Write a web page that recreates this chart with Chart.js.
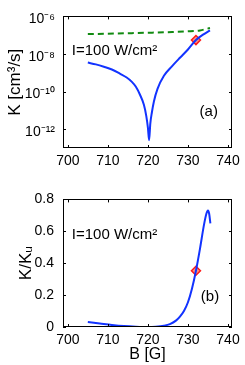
<!DOCTYPE html>
<html>
<head>
<meta charset="utf-8">
<script src="https://cdn.jsdelivr.net/npm/chart.js@4/dist/chart.umd.min.js"></script>
<style>
  html, body { margin:0; padding:0; background:#fff; }
  #wrap { position:relative; width:245px; height:365px; overflow:hidden; }
  canvas { position:absolute; left:0; }
</style>
</head>
<body>
<div id="wrap">
  <canvas id="top" width="245" height="182" style="top:0"></canvas>
  <canvas id="bot" width="245" height="183" style="top:182px"></canvas>
</div>
<script>
// ---- data ----
const xTicks = [700, 710, 720, 730, 740];
const kTicks = [1e-12, 1e-10, 1e-8, 1e-6];
const ratioTicks = [0, 0.2, 0.4, 0.6, 0.8];

const kB =   [705, 707, 709, 711, 713, 714.7, 716, 717, 718, 719, 719.6, 720, 720.3, 720.6, 721, 721.5, 722.4, 724, 726, 728, 730, 732, 734, 735.5];
const kVal = [3.5e-9, 2.8e-9, 2.1e-9, 1.5e-9, 9e-10, 5.6e-10, 3.3e-10, 1.8e-10, 7e-11, 2e-11, 5e-12, 1.2e-12, 2.6e-13, 2e-12, 8e-12, 3e-11, 1.4e-10, 6.9e-10, 2.2e-9, 6.3e-9, 1.74e-8, 5.5e-8, 1.15e-7, 1.8e-7];

const kuB =   [705, 710, 715, 720, 725, 730, 733, 735.5];
const kuVal = [1.15e-7, 1.2e-7, 1.27e-7, 1.35e-7, 1.45e-7, 1.6e-7, 1.8e-7, 2.4e-7];

const rB =   [705, 708, 711, 714, 717, 720, 722, 724, 725.5, 727, 728, 729, 730, 731, 732, 733, 734, 734.6, 735, 735.3, 735.6];
const rVal = [0.031, 0.022, 0.013, 0.006, 0.002, 0.0, 0.002, 0.008, 0.018, 0.04, 0.065, 0.1, 0.155, 0.24, 0.353, 0.49, 0.64, 0.71, 0.73, 0.71, 0.65];

const markB = [732];
const markK = [5.5e-8];
const markR = [0.353];

const noteText = 'I=100 W/cm²';
// ---------------------------------------

const FONT = '"Liberation Sans", Arial, Helvetica, sans-serif';
const BLUE = '#1233ff';
const GREEN = '#118a11';
const RED = '#ff1a1a';

const sup = {'-':'⁻','0':'⁰','1':'¹','2':'²','3':'³','4':'⁴','5':'⁵','6':'⁶','7':'⁷','8':'⁸','9':'⁹'};
function powLabel(v) {
  const e = Math.round(Math.log10(v));
  return '10' + String(e).split('').map(c => sup[c]).join('');
}
const pts = (xs, ys) => xs.map((x, i) => ({x, y: ys[i]}));

const boxPlugin = {
  id: 'box',
  afterDatasetsDraw(chart) {
    const {ctx, chartArea: a, scales: {x, y}} = chart;
    ctx.save();
    ctx.strokeStyle = '#000';
    ctx.lineWidth = 1;
    ctx.strokeRect(Math.round(a.left) + 0.5, Math.round(a.top) + 0.5,
                   Math.round(a.right - a.left) - 1, Math.round(a.bottom - a.top) - 1);
    const L = 3;
    ctx.beginPath();
    x.ticks.forEach(t => {
      const p = Math.round(x.getPixelForValue(t.value)) + 0.5;
      ctx.moveTo(p, a.bottom); ctx.lineTo(p, a.bottom - L);
      ctx.moveTo(p, a.top); ctx.lineTo(p, a.top + L);
    });
    y.ticks.forEach(t => {
      const p = Math.round(y.getPixelForValue(t.value)) + 0.5;
      ctx.moveTo(a.left, p); ctx.lineTo(a.left + L, p);
      ctx.moveTo(a.right, p); ctx.lineTo(a.right - L, p);
    });
    ctx.stroke();
    ctx.restore();
  },
  afterDraw(chart) {
    const notes = chart.options.plugins.box.notes || [];
    const {ctx, scales: {x, y}} = chart;
    ctx.save();
    ctx.fillStyle = '#000';
    ctx.textBaseline = 'middle';
    notes.forEach(n => {
      ctx.font = n.size + 'px ' + FONT;
      ctx.textAlign = n.align;
      ctx.fillText(n.text, x.getPixelForValue(n.x), y.getPixelForValue(n.y));
    });
    ctx.restore();
  }
};

function xScale(withTitle, height) {
  return {
    type: 'linear',
    min: 698.8, max: 741,
    grid: {display: false, drawTicks: false},
    border: {display: false},
    afterBuildTicks: s => { s.ticks = xTicks.map(v => ({value: v})); },
    afterFit: s => { s.height = height; },
    ticks: {color: '#000', font: {family: FONT, size: 14}, padding: 5, maxRotation: 0,
            callback: v => String(v)},
    title: withTitle ? {display: true, text: 'B [G]', color: '#000',
            font: {family: FONT, size: 16}, padding: {top: 0, bottom: 1}} : {display: false}
  };
}

new Chart(document.getElementById('top'), {
  type: 'line',
  data: {
    datasets: [
      {data: pts(kuB, kuVal), borderColor: GREEN, borderWidth: 2, borderDash: [6, 4],
       pointRadius: 0, cubicInterpolationMode: 'monotone', fill: false},
      {data: pts(kB, kVal), borderColor: BLUE, borderWidth: 2,
       pointRadius: 0, cubicInterpolationMode: 'monotone', fill: false},
      {data: pts(markB, markK), showLine: false, pointStyle: 'rectRot', pointRadius: 4.5,
       borderColor: RED, borderWidth: 1.5, backgroundColor: '#ff9080'}
    ]
  },
  options: {
    responsive: false, animation: false,
    layout: {padding: {left: 0, right: 13, top: 15, bottom: 0}},
    plugins: {legend: {display: false}, tooltip: {enabled: false},
      box: {notes: [
        {text: noteText, x: 701, y: 1.4e-8, size: 15, align: 'left'},
        {text: '(a)', x: 735.2, y: 8e-12, size: 15, align: 'center'}
      ]}},
    scales: {
      x: xScale(false, 182 - 148),
      y: {
        type: 'logarithmic', min: 1e-13, max: 1e-6,
        grid: {display: false, drawTicks: false}, border: {display: false},
        afterBuildTicks: s => { s.ticks = kTicks.map(v => ({value: v})); },
        afterFit: s => { s.width = 63; },
        ticks: {color: '#000', font: {family: FONT, size: 14}, padding: 8, labelOffset: 3,
                callback: v => powLabel(v)},
        title: {display: true, text: 'K [cm³/s]', color: '#000',
                font: {family: FONT, size: 17}, padding: {top: 5, bottom: 0}}
      }
    }
  },
  plugins: [boxPlugin]
});

new Chart(document.getElementById('bot'), {
  type: 'line',
  data: {
    datasets: [
      {data: pts(rB, rVal), borderColor: BLUE, borderWidth: 2,
       pointRadius: 0, cubicInterpolationMode: 'monotone', fill: false},
      {data: pts(markB, markR), showLine: false, pointStyle: 'rectRot', pointRadius: 4.5,
       borderColor: RED, borderWidth: 1.5, backgroundColor: '#ff9080'}
    ]
  },
  options: {
    responsive: false, animation: false,
    layout: {padding: {left: 0, right: 13, top: 15, bottom: 0}},
    plugins: {legend: {display: false}, tooltip: {enabled: false},
      box: {notes: [
        {text: noteText, x: 701, y: 0.58, size: 15, align: 'left'},
        {text: '(b)', x: 735.5, y: 0.186, size: 15, align: 'center'}
      ]}},
    scales: {
      x: xScale(true, 183 - 145),
      y: {
        type: 'linear', min: 0, max: 0.8,
        grid: {display: false, drawTicks: false}, border: {display: false},
        afterBuildTicks: s => { s.ticks = ratioTicks.map(v => ({value: v})); },
        afterFit: s => { s.width = 63; },
        ticks: {color: '#000', font: {family: FONT, size: 14}, padding: 9,
                callback: v => String(v)},
        title: {display: true, text: 'K/Kᵤ', color: '#000',
                font: {family: FONT, size: 17}, padding: {top: 16, bottom: 0}}
      }
    }
  },
  plugins: [boxPlugin]
});
</script>
</body>
</html>
